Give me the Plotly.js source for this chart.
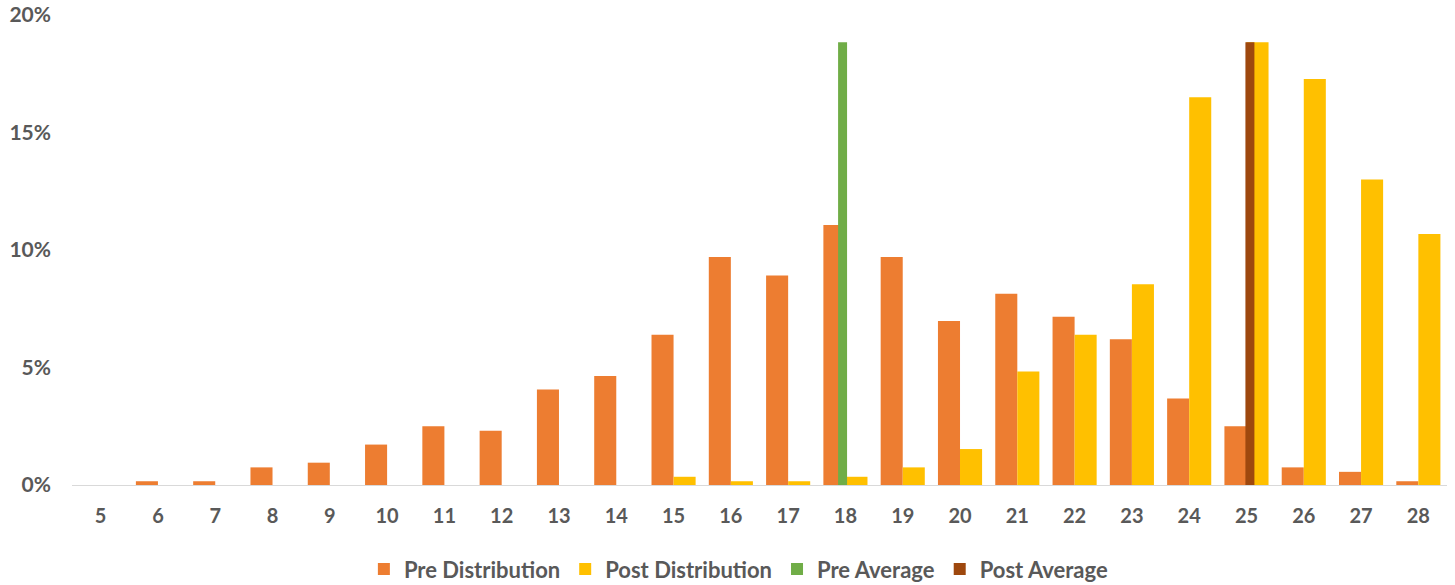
<!DOCTYPE html>
<html>
<head>
<meta charset="utf-8">
<script src="https://cdn.plot.ly/plotly-3.0.1.min.js"></script>
<style>html,body{margin:0;padding:0;background:#fff;}#chart{width:1455px;height:585px;}</style>
</head>
<body>
<div id="chart"></div>
<script>
const categories = [5,6,7,8,9,10,11,12,13,14,15,16,17,18,19,20,21,22,23,24,25,26,27,28];
const preDistribution = [0,0.0016,0.0016,0.0075,0.0095,0.0172,0.0250,0.0231,0.0406,0.0464,0.0639,0.0970,0.0891,0.1106,0.0970,0.0698,0.0814,0.0716,0.0620,0.0368,0.0250,0.0075,0.0056,0.0016];
const postDistribution = [0,0,0,0,0,0,0,0,0,0,0.0035,0.0016,0.0016,0.0035,0.0075,0.0153,0.0483,0.0639,0.0854,0.1650,0.1884,0.1728,0.1300,0.1068];
const preAverageX = [17.95];
const preAverageY = [0.1884];
const postAverageX = [25.06];
const postAverageY = [0.1884];
const yTickVals = [0,0.05,0.10,0.15,0.20];
const yTickText = ['0%','5%','10%','15%','20%'];

const textColor = '#595959';
const fontFam = 'Lato, "Open Sans", sans-serif';
const barW = 0.385;
const avgW = 0.157;

const traces = [
  {type:'bar', name:'Pre Distribution', x:categories, y:preDistribution,
   width:barW, offset:-barW, marker:{color:'#ED7D31'}},
  {type:'bar', name:'Post Distribution', x:categories, y:postDistribution,
   width:barW, offset:0, marker:{color:'#FFC000'}},
  {type:'bar', name:'Pre Average', x:preAverageX, y:preAverageY,
   width:avgW, offset:-avgW/2, marker:{color:'#70AD47'}},
  {type:'bar', name:'Post Average', x:postAverageX, y:postAverageY,
   width:avgW, offset:-avgW/2, marker:{color:'#9E480E'}}
];

const layout = {
  width:1455, height:585,
  margin:{l:72, r:8, t:15, b:100, pad:0, autoexpand:false},
  barmode:'overlay',
  paper_bgcolor:'#ffffff', plot_bgcolor:'#ffffff',
  font:{family:fontFam, color:textColor, size:20, weight:'bold'},
  showlegend:true,
  legend:{orientation:'h', x:0.485, xanchor:'center', y:-0.179, yanchor:'middle',
          font:{family:fontFam, size:22, color:textColor, weight:'bold'}},
  xaxis:{type:'linear', range:[4.5,28.5], tickvals:categories, ticktext:categories.map(String),
         showgrid:false, zeroline:false, showline:true, linecolor:'#D9D9D9', linewidth:1,
         ticks:'', ticklabelstandoff:13,
         tickfont:{family:fontFam, size:20, color:textColor, weight:'bold'}},
  yaxis:{range:[0,0.2], tickvals:yTickVals, ticktext:yTickText,
         showgrid:false, zeroline:false, showline:false, ticks:'', ticklabelstandoff:20,
         tickfont:{family:fontFam, size:21, color:textColor, weight:'bold'}}
};

Plotly.newPlot('chart', traces, layout, {displayModeBar:false, staticPlot:true});
</script>
</body>
</html>
